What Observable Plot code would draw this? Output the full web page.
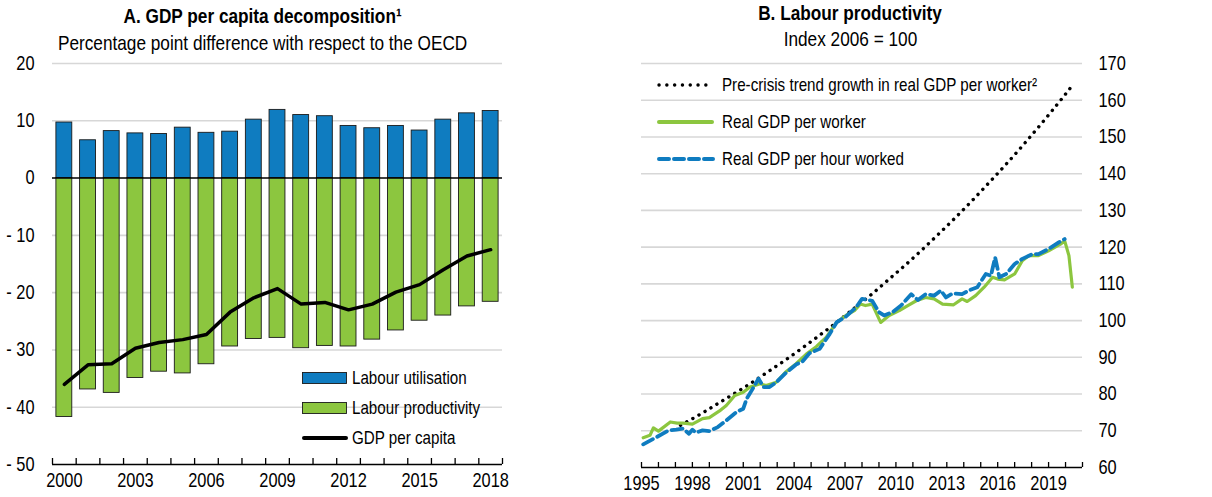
<!DOCTYPE html>
<html>
<head>
<meta charset="utf-8">
<script src="https://cdn.jsdelivr.net/npm/d3@7"></script>
<script src="https://cdn.jsdelivr.net/npm/@observablehq/plot@0.6"></script>
<style>
  html, body { margin: 0; padding: 0; background: #fff; }
  body { width: 1212px; height: 497px; position: relative; overflow: hidden;
         font-family: "Liberation Sans", Arial, sans-serif; color: #000; }
  .abs { position: absolute; }
  .center { text-align: center; white-space: nowrap; }
  .narrow { display: inline-block; transform: scaleX(0.82); white-space: nowrap; }
  .center .narrow { transform-origin: 50% 50%; }
  .title { font-weight: bold; font-size: 21px; }
  .sub { font-size: 21px; }
  .leg { font-size: 18.5px; white-space: nowrap; line-height: 20px; }
  .leg .narrow { transform-origin: 0 50%; }
  svg.swatch { position: absolute; overflow: visible; }
</style>
</head>
<body>
<div id="panelA" class="abs" style="left:0;top:0;width:606px;height:497px;"></div>
<div id="panelB" class="abs" style="left:606px;top:0;width:606px;height:497px;"></div>

<div class="abs center title" style="left:0;width:526px;top:4px;"><span class="narrow">A. GDP per capita decomposition¹</span></div>
<div class="abs center sub" style="left:0;width:526px;top:31px;"><span class="narrow">Percentage point difference with respect to the OECD</span></div>
<div class="abs center title" style="left:650px;width:400px;top:1px;"><span class="narrow">B. Labour productivity</span></div>
<div class="abs center sub" style="left:650px;width:400px;top:27px;"><span class="narrow">Index 2006 = 100</span></div>

<script>
// ---------- Panel A data ----------
const yearsA = [2000, 2001, 2002, 2003, 2004, 2005, 2006, 2007, 2008, 2009, 2010, 2011, 2012, 2013, 2014, 2015, 2016, 2017, 2018];
const labourUtilisation = [9.7, 6.6, 8.2, 7.8, 7.7, 8.8, 7.9, 8.1, 10.2, 11.9, 11.0, 10.8, 9.1, 8.7, 9.1, 8.3, 10.2, 11.3, 11.7];
const labourProductivity = [-41.7, -36.9, -37.5, -34.9, -33.8, -34.1, -32.5, -29.4, -28.1, -27.9, -29.7, -29.3, -29.4, -28.2, -26.6, -24.9, -24.0, -22.4, -21.6];
const gdpPerCapita = [-36.0, -32.6, -32.4, -29.7, -28.7, -28.2, -27.3, -23.4, -20.9, -19.3, -22.0, -21.7, -23.0, -22.0, -19.9, -18.6, -16.0, -13.6, -12.5];
const yTicksA = [-50, -40, -30, -20, -10, 0, 10, 20];
const xLabelsA = [2000, 2003, 2006, 2009, 2012, 2015, 2018];

// ---------- Panel B data ----------
const perWorkerT = [1995.1,1995.5,1995.7,1996.0,1996.7,1997.1,1997.45,1998.0,1998.6,1999.0,1999.6,2000.0,2000.5,2001.0,2001.4,2002.0,2002.35,2002.95,2003.5,2004.1,2004.7,2005.3,2005.9,2006.5,2007.05,2007.55,2007.9,2008.2,2008.6,2009.1,2009.6,2010.2,2010.7,2011.2,2011.75,2012.25,2012.75,2013.4,2013.9,2014.2,2014.7,2015.2,2015.7,2016.0,2016.4,2017.0,2017.45,2017.85,2018.4,2019.0,2019.7,2019.95,2020.2,2020.4];
const perWorkerV = [68.1,68.75,70.8,69.9,72.4,72.1,72.1,71.8,73.3,73.6,75.4,76.9,79.6,80.5,81.9,82.8,82.3,83.2,86.0,88.2,90.8,92.9,95.5,99.5,101.4,102.7,104.5,104.1,104.5,99.5,101.4,102.7,104.1,105.4,106.3,105.9,104.5,104.3,105.9,105.2,106.8,109.1,111.8,111.3,111.1,112.7,116.3,117.7,117.7,119.0,120.8,121.7,117.7,109.1];
const perHourT = [1995.1,1995.9,1996.6,1997.05,1997.45,1997.8,1998.0,1998.2,1998.6,1999.0,1999.5,2000.0,2000.6,2001.0,2001.2,2001.5,2001.9,2002.2,2002.55,2002.95,2003.5,2004.1,2004.5,2004.9,2005.5,2006.1,2006.5,2007.05,2007.65,2008.0,2008.6,2009.0,2009.3,2009.8,2010.3,2010.9,2011.3,2011.75,2012.25,2012.65,2012.95,2013.35,2013.9,2014.3,2014.8,2015.3,2015.6,2015.85,2016.1,2016.5,2017.0,2017.45,2018.05,2018.4,2019.0,2019.6,2019.95];
const perHourV = [66.3,68.3,70.1,70.3,70.6,69.2,70.3,69.5,70.1,69.9,71.0,72.8,75.1,76.0,78.7,81.0,84.2,81.9,81.9,83.2,85.7,88.0,88.9,91.1,92.3,96.4,99.5,101.1,103.6,105.9,105.4,102.3,101.4,102.3,104.1,107.2,105.6,107.2,106.8,108.2,106.3,107.4,107.2,108.2,109.1,112.7,112.2,117.2,111.8,112.7,115.4,116.8,118.1,118.1,119.5,121.3,122.2];
const trendT = [1997.3,1998.5,1999.5,2000.5,2001.5,2002.5,2003.5,2004.5,2005.5,2006.5,2007.5,2008.5,2009.5,2010.5,2011.5,2012.5,2013.5,2014.5,2015.5,2016.5,2017.5,2018.5,2019.5,2020.4];
const trendV = [71.5,74.6,77.4,80.2,83.1,86.2,89.3,92.6,96.0,99.5,103.2,106.9,110.9,114.9,119.1,123.5,128.0,132.7,137.6,142.6,147.8,153.2,158.8,164.0];
const yTicksB = [60, 70, 80, 90, 100, 110, 120, 130, 140, 150, 160, 170];
const xLabelsB = [1995, 1998, 2001, 2004, 2007, 2010, 2013, 2016, 2019];
const xTicksB = d3.range(1995, 2022);

const BLUE = "#0f7cc0";
const GREEN = "#8cc63f";
const GRID = "#d7d7d7";
const FONT = '"Liberation Sans", Arial, sans-serif';
const TICKFONT = 20;

const dataA = yearsA.map((year, i) => ({year, util: labourUtilisation[i], prod: labourProductivity[i], gdp: gdpPerCapita[i]}));
const boundsA = yearsA.map(y => y - 0.5).concat([yearsA[yearsA.length - 1] + 0.5]);
const fmtA = d => d < 0 ? "- " + Math.abs(d) : String(d);

const plotA = Plot.plot({
  width: 606, height: 497,
  marginLeft: 52, marginRight: 104, marginTop: 63, marginBottom: 33,
  style: {fontFamily: FONT, fontSize: TICKFONT + "px", color: "#000", background: "transparent", overflow: "visible"},
  x: {domain: [1999.5, 2018.5], label: null},
  y: {domain: [-50, 20], label: null},
  marks: [
    Plot.ruleY(yTicksA.filter(d => d !== 0 && d !== -50), {stroke: GRID, strokeWidth: 1.6}),
    Plot.rectY(dataA, {x1: d => d.year - 0.5, x2: d => d.year + 0.5, y1: 0, y2: "util", fill: BLUE, stroke: "#1a1a1a", strokeWidth: 0.9, insetLeft: 3.9, insetRight: 3.9}),
    Plot.rectY(dataA, {x1: d => d.year - 0.5, x2: d => d.year + 0.5, y1: 0, y2: "prod", fill: GREEN, stroke: "#1a1a1a", strokeWidth: 0.9, insetLeft: 3.9, insetRight: 3.9}),
    Plot.ruleY([0], {stroke: "#000", strokeWidth: 1.5}),
    Plot.line(dataA, {x: "year", y: "gdp", stroke: "#000", strokeWidth: 3.5}),
    Plot.ruleY([-50], {stroke: "#000", strokeWidth: 1.5}),
    Plot.axisX({ticks: boundsA, tickSize: 6, dy: -6, tickFormat: () => "", stroke: "#000", strokeWidth: 1.3, label: null}),
    Plot.axisX({ticks: xLabelsA, tickSize: 0, tickPadding: 8, tickFormat: d => String(d), fontSize: TICKFONT, label: null}),
    Plot.axisY({ticks: yTicksA, tickSize: 0, tickPadding: 18, tickFormat: fmtA, fontSize: TICKFONT, label: null})
  ]
});
document.getElementById("panelA").appendChild(plotA);

const perWorker = perWorkerT.map((t, i) => ({t, v: perWorkerV[i]}));
const perHour = perHourT.map((t, i) => ({t, v: perHourV[i]}));
const trend = trendT.map((t, i) => ({t, v: trendV[i]}));

const plotB = Plot.plot({
  width: 606, height: 497,
  marginLeft: 35, marginRight: 130, marginTop: 63, marginBottom: 30,
  style: {fontFamily: FONT, fontSize: TICKFONT + "px", color: "#000", background: "transparent", overflow: "visible"},
  x: {domain: [1995, 2021], label: null},
  y: {domain: [60, 170], label: null},
  marks: [
    Plot.ruleY(yTicksB.filter(d => d !== 60), {stroke: GRID, strokeWidth: 1.6}),
    Plot.line(trend, {x: "t", y: "v", stroke: "#000", strokeWidth: 3.4, strokeDasharray: "0.1 6.9", strokeLinecap: "round", curve: "natural"}),
    Plot.line(perWorker, {x: "t", y: "v", stroke: GREEN, strokeWidth: 3.2}),
    Plot.line(perHour, {x: "t", y: "v", stroke: BLUE, strokeWidth: 3.8, strokeDasharray: "11 5"}),
    Plot.ruleY([60], {stroke: "#000", strokeWidth: 1.5}),
    Plot.axisX({ticks: xTicksB, tickSize: 5, dy: -5, tickFormat: () => "", stroke: "#000", strokeWidth: 1.3, label: null}),
    Plot.axisX({ticks: xLabelsB, tickSize: 0, tickPadding: 8, tickFormat: d => String(d), fontSize: TICKFONT, label: null}),
    Plot.axisY({anchor: "right", ticks: yTicksB, tickSize: 0, tickPadding: 16, tickFormat: d => String(d), fontSize: TICKFONT, label: null})
  ]
});
document.getElementById("panelB").appendChild(plotB);

// Narrow (Arial Narrow-like) tick labels: compress each label horizontally about its own anchor point.
[plotA, plotB].forEach(svg => {
  svg.querySelectorAll("text").forEach(t => {
    const tr = t.getAttribute("transform") || "";
    const xs = t.getAttribute("x");
    let x = 0;
    if (xs !== null && /^-?[\d.]+(px)?$/.test(xs.trim())) { x = parseFloat(xs); t.removeAttribute("x"); }
    t.setAttribute("transform", `${tr} translate(${x},0) scale(0.82,1)`);
  });
});

// ---------- Legends (HTML) ----------
function addText(x, y, text) {
  const d = document.createElement("div");
  d.className = "abs leg";
  d.style.left = x + "px"; d.style.top = (y - 10) + "px";
  const s = document.createElement("span");
  s.className = "narrow";
  s.textContent = text;
  d.appendChild(s);
  document.body.appendChild(d);
}
function addSwatch(html, x, y, w, h) {
  const s = document.createElementNS("http://www.w3.org/2000/svg", "svg");
  s.setAttribute("class", "swatch");
  s.setAttribute("width", w); s.setAttribute("height", h);
  s.style.left = x + "px"; s.style.top = y + "px";
  s.innerHTML = html;
  document.body.appendChild(s);
}
const legA = [
  {label: "Labour utilisation", y: 378, kind: "rect", fill: BLUE},
  {label: "Labour productivity", y: 408, kind: "rect", fill: GREEN},
  {label: "GDP per capita", y: 438, kind: "line"}
];
legA.forEach(l => {
  if (l.kind === "rect") addSwatch(`<rect x="0.5" y="0.5" width="44" height="11" fill="${l.fill}" stroke="#1a1a1a" stroke-width="0.9"/>`, 302, l.y - 6, 46, 13);
  else addSwatch(`<line x1="2" y1="4" x2="44" y2="4" stroke="#000" stroke-width="4" stroke-linecap="round"/>`, 302, l.y - 4, 46, 8);
  addText(352, l.y, l.label);
});
const legB = [
  {label: "Pre-crisis trend growth in real GDP per worker²", y: 85, html: `<line x1="2" y1="4" x2="56" y2="4" stroke="#000" stroke-width="3.4" stroke-dasharray="0.1 7.7" stroke-linecap="round"/>`},
  {label: "Real GDP per worker", y: 122, html: `<line x1="2" y1="4" x2="55" y2="4" stroke="${GREEN}" stroke-width="4" stroke-linecap="round"/>`},
  {label: "Real GDP per hour worked", y: 159, html: `<line x1="2" y1="4" x2="56" y2="4" stroke="${BLUE}" stroke-width="4" stroke-dasharray="10 5" stroke-linecap="round"/>`}
];
legB.forEach(l => {
  addSwatch(l.html, 657, l.y - 4, 60, 8);
  addText(722, l.y, l.label);
});
</script>
</body>
</html>
